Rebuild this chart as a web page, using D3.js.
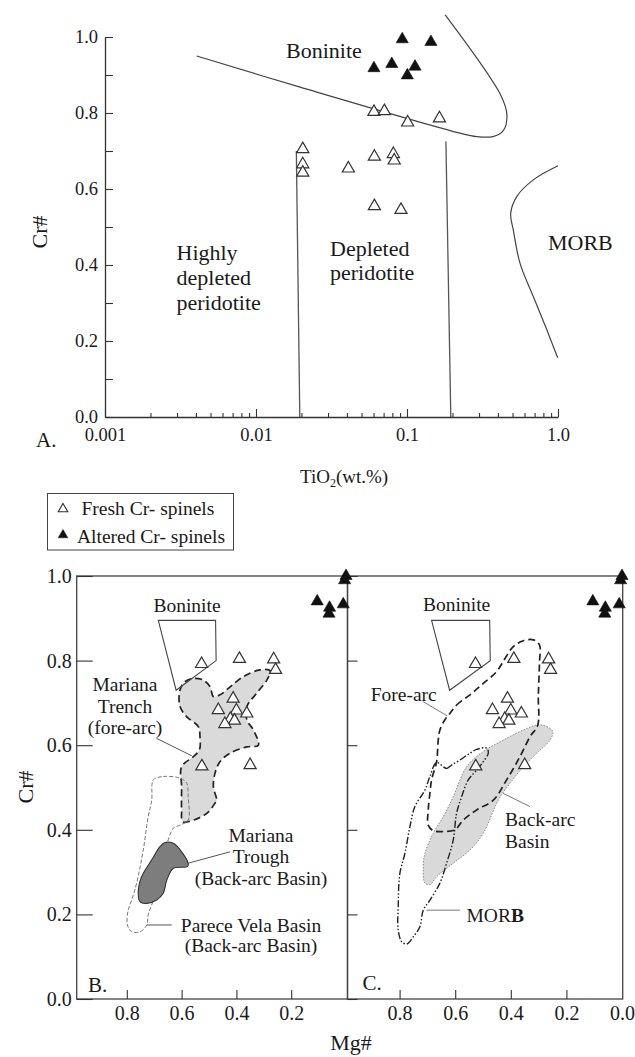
<!DOCTYPE html>
<html>
<head>
<meta charset="utf-8">
<script src="https://cdn.jsdelivr.net/npm/d3@7"></script>
<style>
body { margin: 0; background: #fff; }
text { font-family: "Liberation Serif", "Times New Roman", serif; fill: #1a1a1a; }
</style>
</head>
<body>
<div class="canvas"></div>
<script>
// ---- data ----
// panel A: TiO2 (wt.%) vs Cr#
var freshTi   = [0.0204, 0.0204, 0.0204, 0.0604, 0.0708, 0.101, 0.164, 0.0409, 0.0608, 0.0812, 0.0823, 0.0608, 0.0912]
var freshCrA  = [0.705, 0.665, 0.643, 0.803, 0.805, 0.775, 0.786, 0.654, 0.685, 0.692, 0.675, 0.555, 0.545]
var alteredTi  = [0.093, 0.144, 0.0604, 0.0793, 0.113, 0.1005]
var alteredCrA = [0.994, 0.987, 0.918, 0.929, 0.922, 0.899]

// field boundaries in panel A, [TiO2, Cr#]
var boniniteLineA = [[0.00405, 0.95], [0.0196, 0.868], [0.224, 0.747], [0.289, 0.738], [0.371, 0.738],
                     [0.433, 0.753], [0.459, 0.795], [0.420, 0.845], [0.179, 1.058]]
var highlyDepletedLine = [[0.0185, 0.70], [0.0195, 0.0]]
var depletedLine = [[0.181, 0.725], [0.195, 0.0]]
var morbLineA = [[1.0, 0.661], [0.686, 0.624], [0.533, 0.580], [0.486, 0.536], [0.506, 0.492],
                 [0.560, 0.405], [0.686, 0.317], [0.842, 0.230], [0.995, 0.156]]

var tiTicksMajor = [0.001, 0.01, 0.1, 1]
var tiTickLabels = ["0.001", "0.01", "0.1", "1.0"]
var crTicks = [0, 0.1, 0.2, 0.3, 0.4, 0.5, 0.6, 0.7, 0.8, 0.9, 1.0]

// panels B and C: Mg# vs Cr#  [Mg#, Cr#]
var freshMgCr = [[0.527, 0.792], [0.389, 0.804], [0.264, 0.803], [0.257, 0.778], [0.412, 0.710],
                 [0.466, 0.683], [0.400, 0.682], [0.362, 0.675], [0.422, 0.662], [0.407, 0.658],
                 [0.442, 0.650], [0.526, 0.550], [0.350, 0.553]]
var alteredMgCr = [[0.0, 1.0], [0.005, 0.99], [0.105, 0.94], [0.06, 0.925], [0.062, 0.911], [0.01, 0.933]]

var boninitePoly = [[0.685, 0.895], [0.476, 0.895], [0.474, 0.80], [0.62, 0.73]]

var marianaTrench = [[0.606, 0.730], [0.588, 0.750], [0.557, 0.758], [0.521, 0.754], [0.496, 0.738],
  [0.484, 0.715], [0.460, 0.719], [0.423, 0.738], [0.375, 0.762], [0.314, 0.778], [0.277, 0.776],
  [0.289, 0.754], [0.326, 0.723], [0.362, 0.691], [0.362, 0.660], [0.338, 0.636], [0.320, 0.600],
  [0.362, 0.596], [0.423, 0.581], [0.460, 0.561], [0.478, 0.534], [0.484, 0.502], [0.472, 0.470],
  [0.478, 0.463], [0.508, 0.439], [0.557, 0.423], [0.596, 0.419], [0.600, 0.447], [0.600, 0.502],
  [0.600, 0.549], [0.557, 0.573], [0.535, 0.589], [0.533, 0.620], [0.539, 0.644], [0.581, 0.667],
  [0.606, 0.692]]

var pareceVela = [[0.703, 0.518], [0.667, 0.526], [0.606, 0.522], [0.581, 0.510], [0.576, 0.478],
  [0.576, 0.423], [0.606, 0.411], [0.630, 0.404], [0.649, 0.376], [0.668, 0.329], [0.686, 0.281],
  [0.703, 0.234], [0.722, 0.199], [0.727, 0.175], [0.752, 0.159], [0.782, 0.159], [0.798, 0.175],
  [0.795, 0.210], [0.782, 0.234], [0.764, 0.274], [0.740, 0.352], [0.722, 0.431], [0.709, 0.470]]

var marianaTrough = [[0.661, 0.370], [0.630, 0.368], [0.600, 0.348], [0.576, 0.321], [0.578, 0.313],
  [0.630, 0.309], [0.654, 0.281], [0.667, 0.250], [0.691, 0.234], [0.727, 0.226], [0.752, 0.230],
  [0.758, 0.258], [0.746, 0.289], [0.709, 0.329], [0.679, 0.360]]

var foreArc = [[0.619, 0.675], [0.595, 0.695], [0.547, 0.719], [0.499, 0.746], [0.451, 0.774],
  [0.421, 0.805], [0.391, 0.833], [0.355, 0.847], [0.319, 0.849], [0.297, 0.837], [0.297, 0.794],
  [0.301, 0.715], [0.303, 0.648], [0.331, 0.620], [0.367, 0.573], [0.415, 0.518], [0.463, 0.470],
  [0.523, 0.447], [0.571, 0.423], [0.601, 0.400], [0.643, 0.396], [0.679, 0.398], [0.697, 0.411],
  [0.697, 0.447], [0.691, 0.486], [0.685, 0.518], [0.667, 0.561], [0.661, 0.612], [0.655, 0.636],
  [0.637, 0.660]]

var backArc = [[0.301, 0.648], [0.271, 0.644], [0.249, 0.632], [0.259, 0.612], [0.307, 0.581],
  [0.355, 0.549], [0.403, 0.510], [0.445, 0.470], [0.499, 0.392], [0.547, 0.352], [0.607, 0.321],
  [0.667, 0.289], [0.691, 0.270], [0.709, 0.274], [0.715, 0.313], [0.709, 0.344], [0.679, 0.392],
  [0.643, 0.431], [0.607, 0.478], [0.559, 0.549], [0.499, 0.585], [0.427, 0.612], [0.355, 0.636]]

var morbPoly = [[0.667, 0.559], [0.631, 0.545], [0.613, 0.553], [0.583, 0.565], [0.547, 0.581],
  [0.523, 0.590], [0.487, 0.593], [0.481, 0.581], [0.499, 0.561], [0.523, 0.541], [0.553, 0.518],
  [0.577, 0.478], [0.595, 0.439], [0.607, 0.376], [0.631, 0.321], [0.655, 0.274], [0.691, 0.234],
  [0.715, 0.210], [0.727, 0.171], [0.751, 0.147], [0.774, 0.130], [0.792, 0.135], [0.805, 0.163],
  [0.805, 0.218], [0.799, 0.297], [0.781, 0.344], [0.763, 0.407], [0.745, 0.455], [0.709, 0.494],
  [0.691, 0.526]]

// leader lines [Mg#, Cr#]
var leadersB = [[[0.691, 0.616], [0.563, 0.575]], [[0.576, 0.321], [0.423, 0.348]], [[0.727, 0.175], [0.636, 0.175]]]
var leadersC = [[[0.715, 0.703], [0.628, 0.669]], [[0.427, 0.486], [0.331, 0.455]], [[0.703, 0.210], [0.583, 0.210]]]

var mgTicks = [0.8, 0.6, 0.4, 0.2]
var crTicksBC = [0, 0.2, 0.4, 0.6, 0.8, 1.0]

// ---- drawing ----
var svg = d3.select(".canvas").append("svg").attr("width", 635).attr("height", 1057)
svg.append("rect").attr("width", 635).attr("height", 1057).attr("fill", "white")

var xA = d3.scaleLog().domain([0.001, 1]).range([105, 558])
var yA = d3.scaleLinear().domain([0, 1]).range([417, 37])
var xB = d3.scaleLinear().domain([1, 0]).range([72, 346])
var xC = d3.scaleLinear().domain([1, 0]).range([344, 622])
var yBC = d3.scaleLinear().domain([0, 1]).range([999, 576])

var tri = d3.symbol().type(d3.symbolTriangle).size(64)

function triangles(data, xs, ys, filled) {
    svg.append("g").selectAll("path").data(data).join("path")
        .attr("d", tri)
        .attr("transform", d => "translate(" + xs(d[0]) + "," + ys(d[1]) + ")")
        .attr("fill", filled ? "#111" : "white")
        .attr("stroke", filled ? "#111" : "#333")
        .attr("stroke-width", filled ? 0.6 : 1.2)
}

function styleAxis(g, size) {
    g.attr("font-size", size).attr("color", "#333")
    g.selectAll("line").attr("stroke-width", 1.1)
    g.select(".domain").attr("stroke-width", 1.3)
}

// ===== Panel A =====
var lineA = d3.line().x(d => xA(d[0])).y(d => yA(d[1])).curve(d3.curveCatmullRom)
var lineStraight = d3.line().x(d => xA(d[0])).y(d => yA(d[1]))

svg.append("path").attr("d", lineA(boniniteLineA)).attr("fill", "none").attr("stroke", "#444").attr("stroke-width", 1.2)
svg.append("path").attr("d", lineStraight(highlyDepletedLine)).attr("fill", "none").attr("stroke", "#555").attr("stroke-width", 1.3)
svg.append("path").attr("d", lineStraight(depletedLine)).attr("fill", "none").attr("stroke", "#555").attr("stroke-width", 1.3)
svg.append("path").attr("d", lineA(morbLineA)).attr("fill", "none").attr("stroke", "#444").attr("stroke-width", 1.2)

// y axis A
var axA_y = svg.append("g").attr("transform", "translate(105,0)")
    .call(d3.axisLeft(yA).tickValues(crTicks).tickSize(-8).tickSizeOuter(0).tickPadding(7)
        .tickFormat(d => (Math.round(d * 10) % 2 == 0) ? d.toFixed(1) : ""))
styleAxis(axA_y, 18.5)

// x axis A (log, minor ticks)
var tiTicks = []
tiTicksMajor.slice(0, 3).forEach(function(dec) {
    for (let k = 1; k <= 9; k++) tiTicks.push(dec * k)
})
tiTicks.push(1)
var axA_x = svg.append("g").attr("transform", "translate(0,417)")
    .call(d3.axisBottom(xA).tickValues(tiTicks).tickSize(-4).tickSizeOuter(0).tickPadding(11)
        .tickFormat(function(d) {
            var i = tiTicksMajor.findIndex(m => Math.abs(m - d) < m * 1e-6)
            return i >= 0 ? tiTickLabels[i] : ""
        }))
axA_x.selectAll(".tick").filter(d => tiTicksMajor.some(m => Math.abs(m - d) < m * 1e-6))
    .select("line").attr("y2", -8)
styleAxis(axA_x, 18.5)

triangles(d3.zip(freshTi, freshCrA), xA, yA, false)
triangles(d3.zip(alteredTi, alteredCrA), xA, yA, true)

svg.append("text").attr("x", 286).attr("y", 58).attr("font-size", 22).text("Boninite")
var hd = svg.append("text").attr("font-size", 22)
hd.append("tspan").attr("x", 176.5).attr("y", 260).text("Highly")
hd.append("tspan").attr("x", 176.5).attr("y", 285).text("depleted")
hd.append("tspan").attr("x", 176.5).attr("y", 310).text("peridotite")
var dp = svg.append("text").attr("font-size", 22)
dp.append("tspan").attr("x", 330).attr("y", 256).text("Depleted")
dp.append("tspan").attr("x", 330).attr("y", 280).text("peridotite")
svg.append("text").attr("x", 548).attr("y", 250).attr("font-size", 22).text("MORB")
svg.append("text").attr("x", 36).attr("y", 447).attr("font-size", 21).text("A.")

svg.append("text").attr("transform", "translate(47,232) rotate(-90)").attr("text-anchor", "middle")
    .attr("font-size", 22).text("Cr#")

var tiLabel = svg.append("text").attr("x", 300).attr("y", 483).attr("font-size", 19)
tiLabel.append("tspan").text("TiO")
tiLabel.append("tspan").attr("font-size", 12).attr("dy", 4).text("2")
tiLabel.append("tspan").attr("dy", -4).text("(wt.%)")

// legend
svg.append("rect").attr("x", 47.5).attr("y", 493.5).attr("width", 186).attr("height", 56.5)
    .attr("fill", "white").attr("stroke", "#444").attr("stroke-width", 1)
var triSmall = d3.symbol().type(d3.symbolTriangle).size(40)
svg.append("path").attr("d", triSmall).attr("transform", "translate(63,509)")
    .attr("fill", "white").attr("stroke", "#333").attr("stroke-width", 1.1)
svg.append("path").attr("d", triSmall).attr("transform", "translate(63,535)")
    .attr("fill", "#111").attr("stroke", "#111").attr("stroke-width", 0.5)
svg.append("text").attr("x", 81.5).attr("y", 515).attr("font-size", 19.5).text("Fresh Cr- spinels")
svg.append("text").attr("x", 77).attr("y", 543).attr("font-size", 19.5).text("Altered Cr- spinels")

// ===== Panels B and C =====
function polyPath(xs, curve) {
    return d3.line().x(d => xs(d[0])).y(d => yBC(d[1])).curve(curve)
}

// Panel B fields
svg.append("path").attr("d", polyPath(xB, d3.curveCatmullRomClosed)(marianaTrench))
    .attr("fill", "#dadada").attr("stroke", "#222").attr("stroke-width", 1.7).attr("stroke-dasharray", "7,4")
svg.append("path").attr("d", polyPath(xB, d3.curveCatmullRomClosed)(pareceVela))
    .attr("fill", "none").attr("stroke", "#777").attr("stroke-width", 1).attr("stroke-dasharray", "4,2")
svg.append("path").attr("d", polyPath(xB, d3.curveCatmullRomClosed)(marianaTrough))
    .attr("fill", "#7d7d7d").attr("stroke", "#333").attr("stroke-width", 1.1)
svg.append("path").attr("d", polyPath(xB, d3.curveLinearClosed)(boninitePoly))
    .attr("fill", "none").attr("stroke", "#444").attr("stroke-width", 1.1)
leadersB.forEach(function(l) {
    svg.append("path").attr("d", polyPath(xB, d3.curveLinear)(l)).attr("stroke", "#555").attr("stroke-width", 1)
})

// Panel C fields
svg.append("path").attr("d", polyPath(xC, d3.curveCatmullRomClosed)(backArc))
    .attr("fill", "#d9d9d9").attr("stroke", "#888").attr("stroke-width", 1).attr("stroke-dasharray", "1.5,1.5")
svg.append("path").attr("d", polyPath(xC, d3.curveCatmullRomClosed)(foreArc))
    .attr("fill", "none").attr("stroke", "#222").attr("stroke-width", 1.7).attr("stroke-dasharray", "7,4")
svg.append("path").attr("d", polyPath(xC, d3.curveCatmullRomClosed)(morbPoly))
    .attr("fill", "none").attr("stroke", "#222").attr("stroke-width", 1.4).attr("stroke-dasharray", "7,2,1.5,2,1.5,2")
svg.append("path").attr("d", polyPath(xC, d3.curveLinearClosed)(boninitePoly))
    .attr("fill", "none").attr("stroke", "#444").attr("stroke-width", 1.1)
leadersC.forEach(function(l) {
    svg.append("path").attr("d", polyPath(xC, d3.curveLinear)(l)).attr("stroke", "#777").attr("stroke-width", 1)
})

// frames
svg.append("rect").attr("x", 76.7).attr("y", 576).attr("width", 347.5 - 76.7).attr("height", 423)
    .attr("fill", "none").attr("stroke", "#444").attr("stroke-width", 1.3)
svg.append("rect").attr("x", 347.5).attr("y", 576).attr("width", 622.7 - 347.5).attr("height", 423)
    .attr("fill", "none").attr("stroke", "#444").attr("stroke-width", 1.3)

// axes B
var axB_y = svg.append("g").attr("transform", "translate(76.7,0)")
    .call(d3.axisLeft(yBC).tickValues(crTicksBC).tickSize(-16).tickSizeOuter(0).tickPadding(5).tickFormat(d3.format(".1f")))
axB_y.select(".domain").remove()
styleAxis(axB_y, 20)
var axB_x = svg.append("g").attr("transform", "translate(0,999)")
    .call(d3.axisBottom(xB).tickValues(mgTicks).tickSize(-9).tickSizeOuter(0).tickPadding(7).tickFormat(d3.format(".1f")))
axB_x.select(".domain").remove()
styleAxis(axB_x, 20)

// axes C
var axC_y = svg.append("g").attr("transform", "translate(347.5,0)")
    .call(d3.axisLeft(yBC).tickValues(crTicksBC).tickSize(-10).tickSizeOuter(0).tickFormat(""))
axC_y.select(".domain").remove()
styleAxis(axC_y, 20)
var axC_x = svg.append("g").attr("transform", "translate(0,999)")
    .call(d3.axisBottom(xC).tickValues(mgTicks.concat([0])).tickSize(-9).tickSizeOuter(0).tickPadding(7).tickFormat(d3.format(".1f")))
axC_x.select(".domain").remove()
axC_x.selectAll(".tick").filter(d => d == 0).select("line").remove()
styleAxis(axC_x, 20)

// points B and C
triangles(freshMgCr, xB, yBC, false)
triangles(alteredMgCr, xB, yBC, true)
triangles(freshMgCr, xC, yBC, false)
triangles(alteredMgCr, xC, yBC, true)

// labels B
function multiline(x, ys, lines, anchor) {
    var t = svg.append("text").attr("font-size", 19.5).attr("text-anchor", anchor)
    lines.forEach(function(s, i) { t.append("tspan").attr("x", x).attr("y", ys[i]).text(s) })
    return t
}
multiline(187, [611.5], ["Boninite"], "middle")
multiline(125, [691, 712.5, 734], ["Mariana", "Trench", "(fore-arc)"], "middle")
multiline(261, [841.5, 863, 885], ["Mariana", "Trough", "(Back-arc Basin)"], "middle")
multiline(251, [931.5, 952], ["Parece Vela Basin", "(Back-arc Basin)"], "middle")
svg.append("text").attr("x", 88).attr("y", 992).attr("font-size", 21).text("B.")

// labels C
multiline(456.7, [610.5], ["Boninite"], "middle")
multiline(403.7, [700.5], ["Fore-arc"], "middle")
multiline(505, [826, 848], ["Back-arc", "Basin"], "start")
var morbC = svg.append("text").attr("x", 466.5).attr("y", 921.5).attr("font-size", 19.5)
morbC.append("tspan").text("MOR")
morbC.append("tspan").attr("font-weight", "bold").text("B")
svg.append("text").attr("x", 362.5).attr("y", 990).attr("font-size", 21).text("C.")

svg.append("text").attr("transform", "translate(33,787) rotate(-90)").attr("text-anchor", "middle")
    .attr("font-size", 22).text("Cr#")
svg.append("text").attr("x", 351).attr("y", 1050).attr("text-anchor", "middle")
    .attr("font-size", 22).text("Mg#")
</script>
</body>
</html>
